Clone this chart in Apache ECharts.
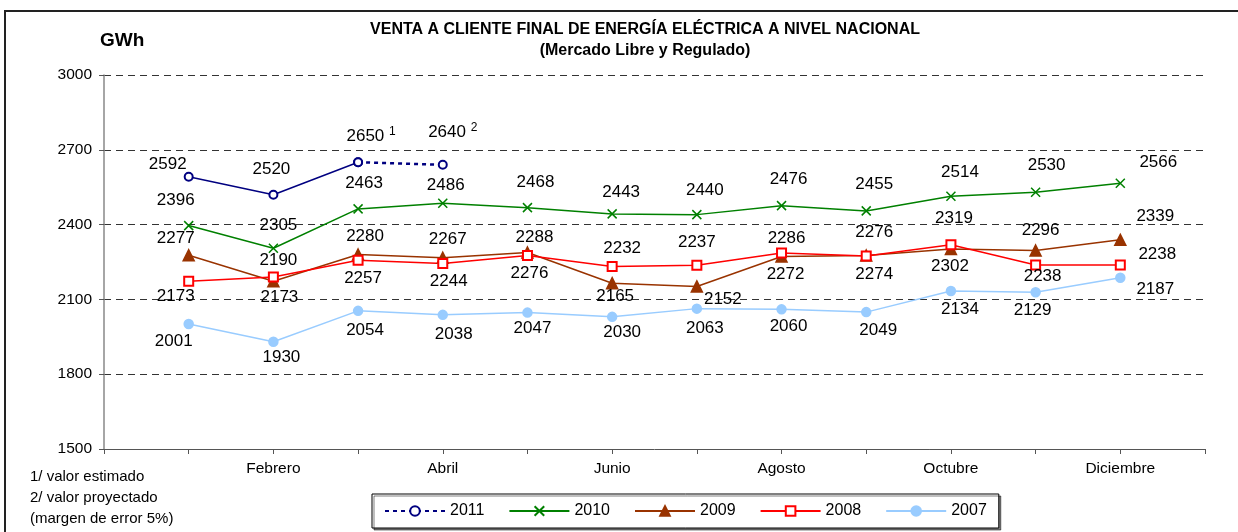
<!DOCTYPE html>
<html>
<head>
<meta charset="utf-8">
<title>Venta a cliente final</title>
<script src="https://cdn.jsdelivr.net/npm/echarts@6/dist/echarts.min.js"></script>
<style>
  html, body { margin: 0; padding: 0; background: #fff; }
  #main { width: 1238px; height: 532px; }
</style>
</head>
<body>
<div id="main"></div>
<script>
// meses (se muestran solo los pares en el eje)
var meses = ['Enero', 'Febrero', 'Marzo', 'Abril', 'Mayo', 'Junio', 'Julio', 'Agosto', 'Septiembre', 'Octubre', 'Noviembre', 'Diciembre'];
var mesesEje = ['Febrero', 'Abril', 'Junio', 'Agosto', 'Octubre', 'Diciembre'];
var ticksY = [1500, 1800, 2100, 2400, 2700, 3000];

// GWh por mes
var v2011 = [2592, 2520, 2650, 2640];
var notas2011 = ['', '', '1', '2'];
var v2010 = [2396, 2305, 2463, 2486, 2468, 2443, 2440, 2476, 2455, 2514, 2530, 2566];
var v2009 = [2277, 2173, 2280, 2267, 2288, 2165, 2152, 2272, 2276, 2302, 2296, 2339];
var v2008 = [2173, 2190, 2257, 2244, 2276, 2232, 2237, 2286, 2274, 2319, 2238, 2238];
var v2007 = [2001, 1930, 2054, 2038, 2047, 2030, 2063, 2060, 2049, 2134, 2129, 2187];

// desplazamiento de cada etiqueta respecto a su punto (px)
var off2011 = [[-21, -12], [-2, -25], [13, -26], [10, -32]];
var off2010 = [[-13, -25], [5, -23], [6, -26], [3, -18], [8, -25], [9, -22], [8, -24], [7, -26], [8, -27], [9, -24], [11, -27], [38, -21]];
var off2009 = [[-13, -17], [6, 16], [7, -18], [5, -18], [7, -15], [3, 13], [26, 13], [4, 18], [8, -23], [-1, 17], [5, -20], [35, -23]];
var off2008 = [[-13, 15], [5, -17], [5, 18], [6, 18], [2, 18], [10, -18], [0, -23], [5, -15], [8, 18], [3, -26], [7, 11], [37, -11]];
var off2007 = [[-15, 17], [8, 16], [7, 19], [11, 19], [5, 16], [10, 15], [8, 20], [7, 17], [12, 18], [9, 18], [-3, 18], [35, 12]];

// el eje tiene un hueco vacio antes de enero y despues de diciembre
var categorias = [''].concat(meses, ['']);

var fuente = 'Arial, "Liberation Sans", sans-serif';

// convierte valores en puntos [posicion, valor]; desde = indice del primer mes
function puntos(vals, offs, desde) {
  desde = desde || 0;
  return vals.map(function (v, i) {
    return { value: [i + 1 + desde, v], label: { offset: offs[i + desde] } };
  });
}

function serie(nombre, vals, offs, color, simbolo, tam) {
  return {
    name: nombre,
    type: 'line',
    data: puntos(vals, offs),
    symbol: simbolo,
    symbolSize: tam,
    showAllSymbol: true,
    lineStyle: { color: color, width: 1.5 },
    itemStyle: { color: color, borderColor: color, borderWidth: 1.5 },
    label: {
      show: true, position: 'inside', color: '#000', fontSize: 17, fontFamily: fuente,
      formatter: function (p) { return p.value[1]; }
    },
    emphasis: { disabled: true },
    z: 3
  };
}

var chart = echarts.init(document.getElementById('main'));

// 2011: tramo estimado punteado (mar-abr), es el que se ve en la leyenda
var s2011 = serie('2011', v2011.slice(2), off2011, '#000080', 'emptyCircle', 8);
s2011.data = puntos(v2011.slice(2), off2011, 2);
s2011.lineStyle = { color: '#000080', width: 2.5, type: [4, 4] };
s2011.label.formatter = function (p) {
  var n = notas2011[p.dataIndex + 2];
  return '{v|' + p.value[1] + '} {s|' + n + '}';
};
s2011.label.rich = {
  v: { fontSize: 17, fontFamily: fuente, color: '#000', lineHeight: 22 },
  s: { fontSize: 12, fontFamily: fuente, color: '#000', verticalAlign: 'top', lineHeight: 12 }
};

// 2011: tramo real continuo (ene-mar)
var s2011real = serie('2011 real', v2011.slice(0, 3), off2011, '#000080', 'emptyCircle', 8);
s2011real.label.formatter = function (p) { return p.dataIndex < 2 ? p.value[1] : ''; };

var option = {
  animation: false,
  backgroundColor: '#fff',
  textStyle: { fontFamily: fuente },
  title: {
    text: 'VENTA A CLIENTE FINAL DE ENERGÍA ELÉCTRICA A NIVEL NACIONAL\n(Mercado Libre y Regulado)',
    left: 640, top: 14, textAlign: 'center',
    textStyle: { fontSize: 16, fontWeight: 'bold', color: '#000', lineHeight: 21, fontFamily: fuente }
  },
  legend: {
    data: ['2011', '2010', '2009', '2008', '2007'],
    left: 372, top: 494,
    itemWidth: 60, itemHeight: 12, itemGap: 24,
    padding: [9, 12],
    borderColor: '#000', borderWidth: 1,
    shadowColor: 'rgba(0,0,0,0.5)', shadowOffsetX: 2, shadowOffsetY: 2, shadowBlur: 0,
    backgroundColor: '#fff',
    selectedMode: false,
    textStyle: { fontSize: 16, color: '#000', fontFamily: fuente }
  },
  grid: { left: 104, right: 33, top: 75, bottom: 83, containLabel: false },
  xAxis: {
    type: 'category',
    data: categorias,
    boundaryGap: false,
    axisLine: { lineStyle: { color: '#555', width: 1 } },
    axisTick: { show: true, interval: 0, length: 5, lineStyle: { color: '#555' } },
    axisLabel: {
      interval: function (i, val) { return mesesEje.indexOf(val) >= 0; },
      fontSize: 15.5, color: '#000', margin: 12, fontFamily: fuente
    },
    splitLine: { show: false }
  },
  yAxis: {
    type: 'value',
    min: ticksY[0], max: ticksY[ticksY.length - 1], interval: 300,
    axisLine: { show: true, lineStyle: { color: '#888', width: 1.5 } },
    axisTick: { show: true, length: 5, lineStyle: { color: '#555' } },
    axisLabel: {
      fontSize: 15.5, color: '#000', margin: 12, fontFamily: fuente,
      formatter: function (v) { return String(v); }
    },
    splitLine: { show: true, lineStyle: { color: '#333', width: 1, type: [7, 5] } }
  },
  graphic: [
    { type: 'rect', shape: { x: 5, y: 11, width: 1240, height: 540 }, style: { fill: 'none', stroke: '#222', lineWidth: 2 }, silent: true },
    { type: 'text', x: 100, y: 41, style: { text: 'GWh', font: 'bold 19px ' + fuente, fill: '#000', verticalAlign: 'middle' } },
    { type: 'text', x: 30, y: 477, style: { text: '1/ valor estimado', font: '15px ' + fuente, fill: '#000', verticalAlign: 'middle' } },
    { type: 'text', x: 30, y: 498, style: { text: '2/ valor proyectado', font: '15px ' + fuente, fill: '#000', verticalAlign: 'middle' } },
    { type: 'text', x: 30, y: 519, style: { text: '(margen de error 5%)', font: '15px ' + fuente, fill: '#000', verticalAlign: 'middle' } }
  ],
  series: [
    s2011,
    s2011real,
    serie('2010', v2010, off2010, '#008000', 'path://M0,0L10,10M10,0L0,10', 9),
    serie('2009', v2009, off2009, '#993300', 'triangle', 11),
    serie('2008', v2008, off2008, '#FF0000', 'emptyRect', 9),
    serie('2007', v2007, off2007, '#99CCFF', 'circle', 9)
  ]
};

chart.setOption(option);
</script>
</body>
</html>
